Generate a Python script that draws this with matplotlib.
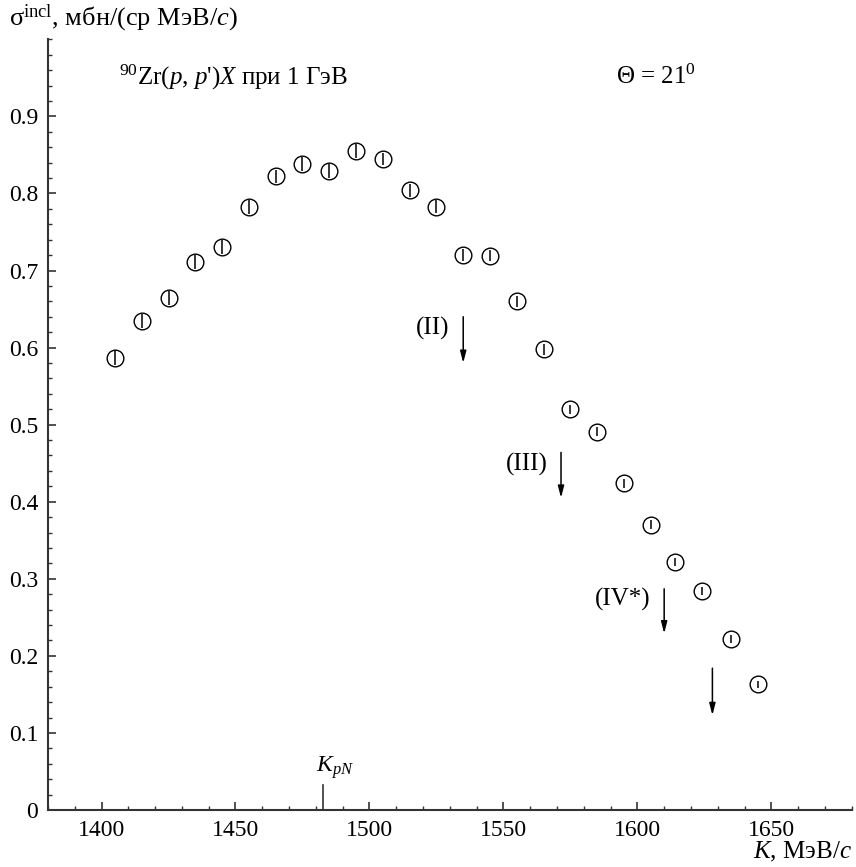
import matplotlib
matplotlib.use("Agg")
import matplotlib.pyplot as plt
from matplotlib.ticker import MultipleLocator, FixedLocator

plt.rcParams['font.family'] = ['Liberation Serif', 'DejaVu Serif']
plt.rcParams['mathtext.fontset'] = 'custom'
plt.rcParams['mathtext.rm'] = 'Liberation Serif'
plt.rcParams['mathtext.it'] = 'Liberation Serif:italic'
plt.rcParams['mathtext.bf'] = 'Liberation Serif:bold'

# Data
K = [1405, 1415, 1425, 1435, 1445, 1455, 1465, 1475, 1485, 1495,
     1505, 1515, 1525, 1535, 1545, 1555, 1565, 1575, 1585, 1595,
     1605, 1614, 1624, 1635, 1645]
sigma = [0.587, 0.635, 0.664, 0.711, 0.731, 0.782, 0.822, 0.838, 0.829, 0.855,
         0.845, 0.804, 0.783, 0.720, 0.719, 0.660, 0.598, 0.520, 0.491, 0.424,
         0.370, 0.322, 0.284, 0.222, 0.163]
err = [0.010, 0.009, 0.009, 0.009, 0.009, 0.009, 0.009, 0.009, 0.009, 0.009,
       0.008, 0.008, 0.008, 0.008, 0.007, 0.007, 0.007, 0.006, 0.006, 0.006,
       0.006, 0.005, 0.005, 0.005, 0.005]

arrow_x = [1535, 1571.5, 1610, 1628]
arrow_top = [0.640, 0.464, 0.287, 0.184]
arrow_bot = [0.580, 0.405, 0.229, 0.123]
arrow_labels = ['(II)', '(III)', '(IV*)', '']
label_y = [0.625, 0.449, 0.273, 0.0]

K_pN = 1482.7
x_ticks = [1400, 1450, 1500, 1550, 1600, 1650]
y_ticks = [0, 0.1, 0.2, 0.3, 0.4, 0.5, 0.6, 0.7, 0.8, 0.9]
y_ticklabels = ['0', '0.1', '0.2', '0.3', '0.4', '0.5', '0.6', '0.7', '0.8', '0.9']

fig = plt.figure(figsize=(8.56, 8.67), dpi=100)
ax = fig.add_axes([0.056, 0.0657, 0.939, 0.889])

ax.errorbar(K, sigma, yerr=err, fmt='o', mfc='none', mec='black', ms=12,
            mew=1.0, ecolor='black', elinewidth=1.1, capsize=0, zorder=3)

for xa, yt, yb, lab, ly in zip(arrow_x, arrow_top, arrow_bot, arrow_labels, label_y):
    ax.annotate('', xy=(xa, yb), xytext=(xa, yt),
                arrowprops=dict(arrowstyle='-|>,head_length=0.7,head_width=0.18',
                                color='black', lw=1.1, shrinkA=0, shrinkB=0))
    if lab:
        ax.text(xa - 5, ly, lab, ha='right', va='center', fontsize=18)

# K_pN marker
ax.plot([K_pN, K_pN], [0, 0.032], color='#333333', lw=1.2, clip_on=False)
ax.text(K_pN - 2.5, 0.038, r'$K_{pN}$', ha='left', va='bottom', fontsize=17)

ax.text(1406.5, 0.951, r"$^{90}$Zr($p$, $p$')$X$ при 1 ГэВ", ha='left', va='center', fontsize=18)
ax.text(1592, 0.951, 'Θ = 21$^{0}$', ha='left', va='center', fontsize=18)

ax.set_xlim(1380, 1680)
ax.set_ylim(0, 1.0)
ax.xaxis.set_major_locator(FixedLocator(x_ticks))
ax.xaxis.set_minor_locator(MultipleLocator(10))
ax.yaxis.set_major_locator(FixedLocator(y_ticks))
ax.set_yticklabels(y_ticklabels)
ax.yaxis.set_minor_locator(MultipleLocator(0.02))

for s in ['top', 'right']:
    ax.spines[s].set_visible(False)
for s in ['left', 'bottom']:
    ax.spines[s].set_linewidth(1.5)
    ax.spines[s].set_color('#333333')

ax.tick_params(which='both', direction='in', color='#333333', labelsize=17)
ax.tick_params(which='major', length=6, width=1.2)
ax.tick_params(which='minor', length=3, width=1.0)
ax.tick_params(axis='y', which='major', pad=7)
ax.tick_params(axis='x', which='major', pad=7)

fig.text(0.011, 0.979, r'$\mathrm{σ}^{\mathrm{incl}}$, мбн/(ср МэВ/$c$)', ha='left', va='center', fontsize=19)
fig.text(0.995, 0.004, r'$K$, МэВ/$c$', ha='right', va='bottom', fontsize=18)

fig.savefig('out.png', dpi=100)
